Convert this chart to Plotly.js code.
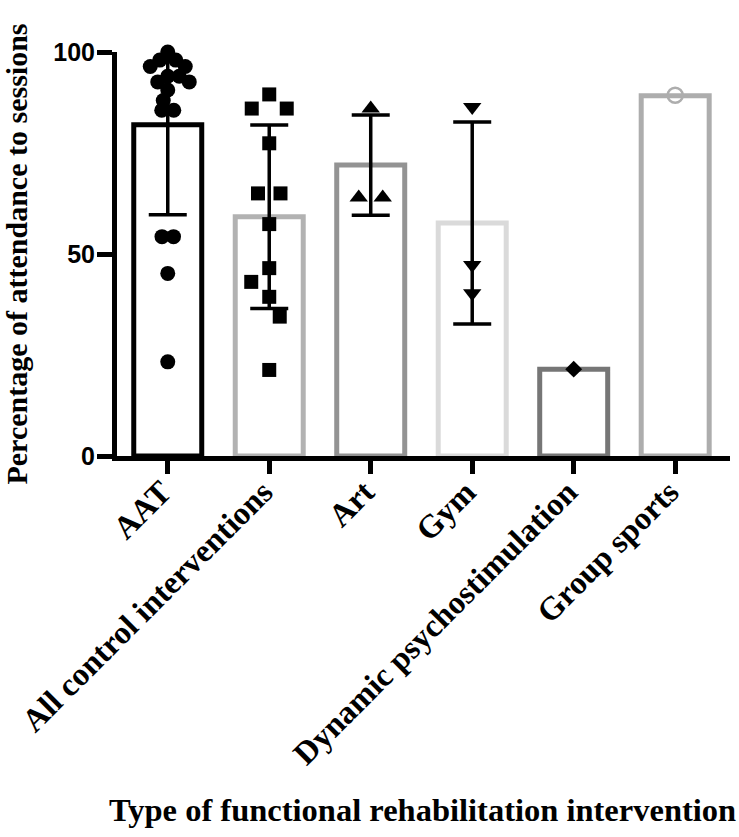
<!DOCTYPE html>
<html><head><meta charset="utf-8">
<script src="https://cdn.plot.ly/plotly-3.0.1.min.js"></script>
<style>body{margin:0;background:#fff}#chart{width:739px;height:837px}</style>
</head><body><div id="chart"></div>
<script>
// ---- data ----
const categories = ["AAT", "All control interventions", "Art", "Gym", "Dynamic psychostimulation", "Group sports"];
const means = [82, 59.2, 72, 57.7, 21.5, 89.2];
const sds = [22.3, 22.7, 12.4, 25, null, null];
const aatValues = [100, 98, 98, 96.4, 96.4, 94, 94, 92.6, 92.6, 90.6, 88, 85.6, 85.6, 54.3, 54.3, 45.2, 23.3];
const controlValues = [89.5, 86, 86, 77.4, 65, 65, 57.4, 46.5, 43.1, 39.4, 34.5, 21.3];
const artValues = [86, 64, 64];
const gymValues = [86.4, 47.3, 40.3];
const dynamicValues = [21.5];
const groupValues = [89.3];
const yTicks = [0, 50, 100];

// ---- styles ----
const W = 739, H = 837;
const M = {l: 117, r: 9, t: 52, b: 381};
const XR = [-0.5, 5.54], YR = [0, 100];
const pxX = (W - M.l - M.r) / (XR[1] - XR[0]);
const pxY = (H - M.t - M.b) / (YR[1] - YR[0]);
const barLineColors = ["#000000", "#b2b2b2", "#939393", "#dadada", "#767676", "#adadad"];
const pointStyles = [
  {symbol: "circle", size: 15, color: "#000", gap: 0.75},
  {symbol: "square", size: 14, color: "#000", gap: 1.6},
  {symbol: "triangle-up", size: 16, color: "#000", gap: 1.5},
  {symbol: "triangle-down", size: 16, color: "#000", gap: 1.2},
  {symbol: "diamond", size: 13, color: "#000", gap: 1},
  {symbol: "circle-open", size: 15, color: "#adadad", lw: 2.5, gap: 1}
];
const groups = [aatValues, controlValues, artValues, gymValues, dynamicValues, groupValues];

// deterministic beeswarm spreading (pixel space)
function swarm(vals, D) {
  const placed = [];
  const order = vals.map((v, i) => i).sort((a, b) => vals[b] - vals[a]);
  const px = new Array(vals.length).fill(0);
  let flip = 1;
  order.forEach(i => {
    const y = vals[i] * pxY;
    let best = 0;
    for (let d = 0; d <= 60; d += 0.5) {
      const cands = d === 0 ? [0] : [flip * d, -flip * d];
      let found = null;
      for (const c of cands) {
        if (placed.every(p => Math.hypot(p.x - c, p.y - y) >= D)) { found = c; break; }
      }
      if (found !== null) { best = found; break; }
    }
    if (best !== 0) flip = -Math.sign(best);
    placed.push({x: best, y: y, i: i});
    px[i] = best;
  });
  // centre rows of identical values when that causes no new collision
  const seen = {};
  vals.forEach((v, i) => { (seen[v] = seen[v] || []).push(i); });
  Object.values(seen).forEach(idx => {
    if (idx.length < 2) return;
    const m = idx.reduce((s, i) => s + px[i], 0) / idx.length;
    const ok = idx.every(i => vals.every((v, j) => idx.includes(j) ||
      Math.hypot(px[j] - (px[i] - m), (v - vals[i]) * pxY) >= D * 0.8));
    if (ok) idx.forEach(i => { px[i] -= m; });
  });
  return px.map(p => p / pxX);
}

const errPlus = sds.map((s, i) => s == null ? NaN : (s > YR[1] - means[i] ? 0 : s));
const errMinus = sds.map(s => s == null ? NaN : s);
const clippedPlus = sds.map((s, i) => (s != null && s > YR[1] - means[i]) ? YR[1] - means[i] : NaN);
const clippedMinus = clippedPlus.map(v => isNaN(v) ? NaN : 0);

const traces = [];
traces.push({
  type: "bar",
  x: categories.map((c, i) => i),
  y: means,
  width: 0.67,
  marker: {color: "rgba(255,255,255,1)", line: {color: barLineColors, width: 5}},
  error_y: {type: "data", symmetric: false, array: errPlus, arrayminus: errMinus,
            color: "#000", thickness: 3.5, width: 19},
  hoverinfo: "skip"
});
// upper whisker clipped at the axis end (no cap)
traces.push({
  type: "scatter", mode: "markers",
  x: categories.map((c, i) => i), y: means,
  marker: {size: 1, opacity: 0},
  error_y: {type: "data", symmetric: false, array: clippedPlus, arrayminus: clippedMinus,
            color: "#000", thickness: 3.5, width: 0},
  hoverinfo: "skip"
});
groups.forEach((vals, gi) => {
  const st = pointStyles[gi];
  const offs = swarm(vals, st.size * st.gap);
  traces.push({
    type: "scatter", mode: "markers", cliponaxis: false,
    x: vals.map((v, i) => gi + offs[i]),
    y: vals,
    marker: {symbol: st.symbol, size: st.size, color: st.color,
             line: {color: st.color, width: st.lw || 0}}
  });
});

const layout = {
  width: W, height: H, margin: M,
  paper_bgcolor: "#fff", plot_bgcolor: "#fff",
  showlegend: false,
  xaxis: {
    range: XR, tickmode: "array", tickvals: categories.map((c, i) => i), ticktext: categories,
    tickangle: -45, ticks: "outside", ticklen: 13, tickwidth: 5, tickcolor: "#000",
    ticklabelstandoff: -14, ticklabelshift: -6,
    showline: true, linewidth: 5, linecolor: "#000", showgrid: false, zeroline: false,
    tickfont: {family: "Liberation Serif", size: 32.5, weight: "bold", color: "#000"},
    automargin: false
  },
  yaxis: {
    range: YR, tickmode: "array", tickvals: yTicks, ticktext: yTicks.map(String),
    ticks: "outside", ticklen: 15, tickwidth: 5, tickcolor: "#000",
    ticklabelstandoff: -3,
    showline: true, linewidth: 5, linecolor: "#000", showgrid: false, zeroline: false,
    tickfont: {family: "Liberation Sans", size: 25, weight: "bold", color: "#000"},
    title: {text: "Percentage of attendance to sessions", standoff: 22,
            font: {family: "Liberation Serif", size: 30, weight: "bold", color: "#000"}},
    automargin: false
  },
  annotations: [{
    text: "Type of functional rehabilitation intervention",
    xref: "paper", yref: "paper", x: 0.499, y: (M.b - (H - 810)) / -(H - M.t - M.b),
    xanchor: "center", yanchor: "middle", showarrow: false,
    font: {family: "Liberation Serif", size: 32.5, weight: "bold", color: "#000"}
  }]
};

Plotly.newPlot("chart", traces, layout, {displayModeBar: false, staticPlot: true});
</script>
</body></html>
